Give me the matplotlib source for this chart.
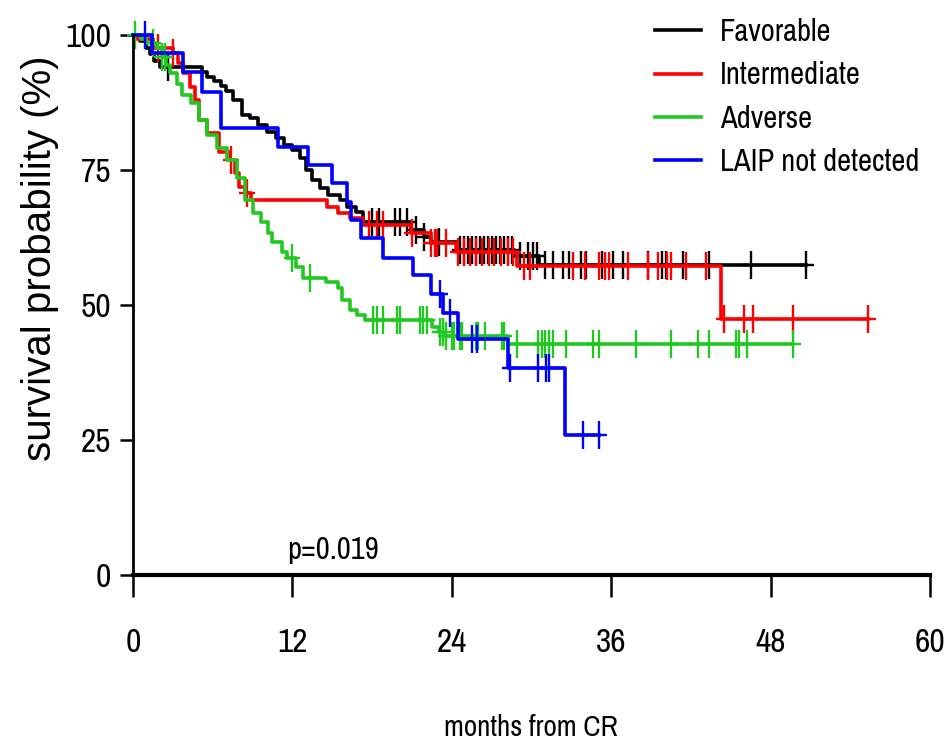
import numpy as np
import matplotlib
matplotlib.use("Agg")
import matplotlib.pyplot as plt
from matplotlib import font_manager as fm
from matplotlib.path import Path

# use a narrow face if there is one, otherwise Liberation Sans a bit smaller
names = {f.name for f in fm.fontManager.ttflist}
narrow = [n for n in names if 'Narrow' in n or 'Condensed' in n]
if narrow:
    plt.rcParams['font.family'] = [sorted(narrow)[0], 'Liberation Sans', 'DejaVu Sans']
    fs_tick, fs_leg, fs_lab = 24, 22, 21
else:
    plt.rcParams['font.family'] = ['Liberation Sans', 'DejaVu Sans']
    fs_tick, fs_leg, fs_lab = 21, 18.5, 17.5

# event times (months) and survival (%) just after each event
fav_t = [0.5, 1.0, 1.3, 1.6, 2.0, 5.2, 5.6, 6.1, 6.6, 7.0, 7.5, 8.2, 8.8, 9.4, 10.1,
         10.8, 11.4, 12.0, 12.6, 13.0, 13.5, 14.1, 14.7, 15.6, 16.1, 16.8, 17.3,
         20.9, 21.9, 22.4, 24.4, 28.7, 30.6]
fav_s = [98.8, 97.6, 96.4, 95.2, 94.0, 93.1, 92.2, 91.4, 90.5, 89.6, 88.0, 85.2, 84.6,
         83.3, 82.0, 80.9, 79.6, 78.7, 77.2, 75.0, 73.1, 71.7, 70.4, 69.4, 68.1, 67.2,
         65.4, 63.9, 62.6, 61.7, 60.2, 59.0, 57.4]
fav_c = [2.6, 18.0, 18.5, 19.7, 20.1, 20.6, 21.3, 21.9, 23.0, 24.6, 24.9, 25.2, 25.5,
         25.8, 26.1, 26.4, 26.7, 27.0, 27.3, 27.6, 27.9, 28.2, 28.5, 29.1, 29.7, 30.1,
         30.4, 31.0, 31.6, 32.4, 32.8, 33.7, 34.1, 35.3, 36.1, 36.9, 38.8, 39.8, 40.1,
         41.4, 43.4, 46.5, 50.7]

int_t = [0.3, 1.5, 3.0, 3.4, 3.8, 4.3, 4.7, 5.0, 5.6, 6.5, 7.3, 7.7, 8.0, 8.4, 8.9,
         14.6, 15.4, 16.3, 17.3, 20.9, 22.4, 24.3, 28.9, 44.3]
int_s = [99.2, 97.6, 96.7, 94.8, 93.0, 90.4, 88.0, 84.3, 81.9, 78.3, 76.9, 74.4, 71.9,
         70.7, 69.4, 68.1, 67.0, 66.1, 64.8, 63.3, 61.5, 59.8, 57.2, 47.4]
int_c = [1.9, 3.0, 7.4, 8.6, 17.8, 18.4, 18.8, 21.0, 22.4, 22.7, 22.9, 23.6, 24.5,
         24.9, 25.4, 25.8, 26.3, 26.8, 27.2, 27.7, 28.2, 28.6, 29.4, 29.9, 33.1, 34.0,
         35.1, 35.5, 35.8, 37.3, 38.8, 39.5, 40.2, 40.5, 41.6, 43.1, 44.5, 46.0, 46.7,
         49.7, 55.3]

adv_t = [0.6, 1.0, 1.8, 2.2, 2.5, 2.8, 3.3, 3.7, 4.4, 5.0, 5.6, 6.3, 7.1, 7.8, 8.4,
         9.0, 9.6, 10.2, 10.5, 11.2, 11.6, 12.3, 12.8, 14.5, 15.4, 15.7, 16.3, 16.9,
         17.5, 22.5, 23.0, 23.4, 28.2]
adv_s = [99.3, 98.5, 97.5, 96.0, 94.5, 93.0, 91.0, 88.9, 87.4, 84.3, 81.5, 79.1, 76.9,
         73.5, 69.4, 67.0, 65.4, 63.3, 61.7, 59.8, 58.7, 57.0, 55.0, 54.3, 53.1, 50.9,
         49.1, 48.1, 47.2, 45.9, 45.0, 44.3, 42.8]
adv_c = [0.15, 1.5, 2.2, 2.4, 12.0, 13.3, 18.1, 18.4, 18.8, 19.9, 20.1, 21.6, 21.8,
         22.1, 23.1, 23.3, 23.6, 24.0, 24.2, 24.6, 24.8, 25.8, 26.0, 26.5, 27.8, 27.9,
         28.9, 30.5, 30.8, 31.0, 31.3, 31.6, 32.6, 34.6, 35.1, 37.9, 40.5, 42.5, 43.4,
         45.4, 45.6, 46.2, 49.7]

laip_t = [1.4, 3.8, 5.2, 6.6, 10.9, 13.2, 15.0, 16.1, 16.4, 17.2, 18.8, 21.1, 22.4,
          23.3, 24.5, 28.2, 32.5]
laip_s = [96.7, 93.1, 89.4, 82.8, 79.3, 75.9, 72.6, 69.1, 65.7, 62.4, 58.7, 55.6, 52.1,
          48.5, 43.7, 38.3, 25.9]
laip_c = [0.9, 23.1, 23.9, 25.5, 25.9, 28.4, 30.5, 31.1, 31.3, 33.9, 35.1]

groups = ['Favorable', 'Intermediate', 'Adverse', 'LAIP not detected']
colors = ['black', '#ff0000', '#22c822', '#0000ff']
series = [(fav_t, fav_s, fav_c), (int_t, int_s, int_c),
          (adv_t, adv_s, adv_c), (laip_t, laip_s, laip_c)]

# tall '+' censor mark
cross = Path([(-0.6, 0), (0.6, 0), (0, -1), (0, 1)],
             [Path.MOVETO, Path.LINETO, Path.MOVETO, Path.LINETO])

fig = plt.figure(figsize=(9.45, 7.46), dpi=100)
ax = fig.add_axes([133 / 945, 1 - 575 / 746, 797 / 945, 540 / 746])

for name, col, (t, s, c) in zip(groups, colors, series):
    t = np.array(t)
    s = np.array(s)
    c = np.array(c)
    end = max(c.max(), t.max())
    tt = np.concatenate([[0], t, [end]])
    ss = np.concatenate([[100], s, [s[-1]]])
    ax.step(tt, ss, where='post', color=col, lw=2.6, label=name, clip_on=False)
    idx = np.searchsorted(t, c, side='right') - 1
    cy = np.where(idx >= 0, s[np.clip(idx, 0, None)], 100)
    ax.plot(c, cy, ls='none', marker=cross, ms=20, mew=1.7, color=col, clip_on=False)

ax.set_xlim(0, 60)
ax.set_ylim(0, 100)
ax.set_xticks([0, 12, 24, 36, 48, 60])
ax.set_yticks([0, 25, 50, 75, 100])
for sp in ['top', 'right']:
    ax.spines[sp].set_visible(False)
ax.spines['bottom'].set_linewidth(3)
ax.spines['left'].set_linewidth(2)
ax.tick_params(axis='x', length=16, width=1.8, pad=22, labelsize=fs_tick)
ax.tick_params(axis='y', length=9.5, width=1.8, pad=6, labelsize=fs_tick)

ax.text(11.6, 2, 'p=0.019', fontsize=fs_leg, ha='left', va='bottom')
fig.text(531 / 945, 1 - 728 / 746, 'months from CR', fontsize=fs_lab, ha='center', va='center')
fig.text(40 / 945, 1 - 258 / 746, 'survival probability (%)', fontsize=29, rotation=90,
         ha='center', va='center', family=['Liberation Sans', 'DejaVu Sans'])

ax.legend(loc='upper left', bbox_to_anchor=(655 / 945, 1 - 18 / 746),
          bbox_transform=fig.transFigure, frameon=False, fontsize=fs_leg,
          handlelength=1.5, handletextpad=0.62, labelspacing=0.5,
          borderpad=0, borderaxespad=0)

fig.savefig('out.png', dpi=100)
